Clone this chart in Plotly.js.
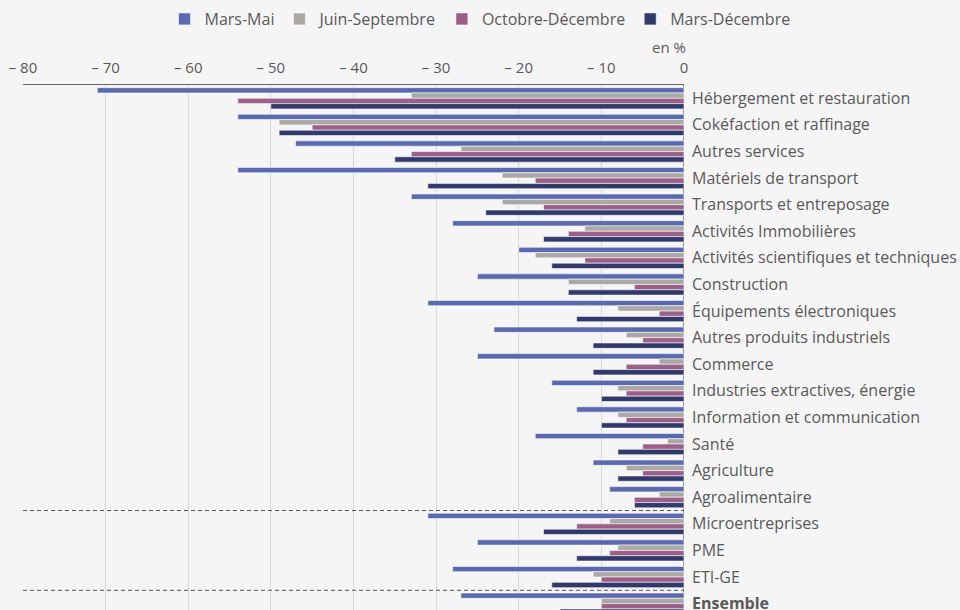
<!DOCTYPE html>
<html>
<head>
<meta charset="utf-8">
<script src="https://cdn.plot.ly/plotly-3.0.1.min.js"></script>
<style>
  html, body { margin: 0; padding: 0; background: #f5f5f5; }
  #chart { width: 960px; height: 610px; }
</style>
</head>
<body>
<div id="chart"></div>
<script>
const categories = [
  "Hébergement et restauration",
  "Cokéfaction et raffinage",
  "Autres services",
  "Matériels de transport",
  "Transports et entreposage",
  "Activités Immobilières",
  "Activités scientifiques et techniques",
  "Construction",
  "Équipements électroniques",
  "Autres produits industriels",
  "Commerce",
  "Industries extractives, énergie",
  "Information et communication",
  "Santé",
  "Agriculture",
  "Agroalimentaire",
  "Microentreprises",
  "PME",
  "ETI-GE",
  "Ensemble"
];
const categoryLabels = categories.map(c => c === "Ensemble" ? "<b>Ensemble</b>" : c);

const seriesNames = ["Mars-Mai", "Juin-Septembre", "Octobre-Décembre", "Mars-Décembre"];
const marsMai        = [-71, -54, -47, -54, -33, -28, -20, -25, -31, -23, -25, -16, -13, -18, -11, -9, -31, -25, -28, -27];
const juinSeptembre  = [-33, -49, -27, -22, -22, -12, -18, -14, -8, -7, -3, -8, -8, -2, -7, -3, -9, -8, -11, -10];
const octobreDecembre= [-54, -45, -33, -18, -17, -14, -12, -6, -3, -5, -7, -7, -7, -5, -5, -6, -13, -9, -10, -10];
const marsDecembre   = [-50, -49, -35, -31, -24, -17, -16, -14, -13, -11, -11, -10, -10, -8, -8, -6, -17, -13, -16, -15];
const seriesValues = [marsMai, juinSeptembre, octobreDecembre, marsDecembre];
const seriesColors = ["#5b6aae", "#aba9a5", "#9c5f88", "#323a6c"];

const xTickVals = [-80, -70, -60, -50, -40, -30, -20, -10, 0];
const xTickText = ["– 80", "– 70", "– 60", "– 50", "– 40", "– 30", "– 20", "– 10", "0"];

const traces = seriesNames.map((name, i) => ({
  type: "bar",
  orientation: "h",
  name: name,
  y: categories,
  x: seriesValues[i],
  marker: { color: seriesColors[i], line: { color: "rgba(255,255,255,0.7)", width: 0.8 } },
  hoverinfo: "skip"
}));

const textColor = "#595959";
const layout = {
  width: 960,
  height: 610,
  paper_bgcolor: "#f5f5f5",
  plot_bgcolor: "#f5f5f5",
  font: { family: "Open Sans, sans-serif", size: 16, color: textColor },
  margin: { l: 23, r: 276, t: 85, b: 0, pad: 0 },
  barmode: "group",
  bargap: 0.2,
  bargroupgap: 0,
  showlegend: true,
  legend: {
    orientation: "h",
    xref: "container", yref: "container",
    x: 0.5, xanchor: "center",
    y: 1 - 19 / 610, yanchor: "middle",
    font: { size: 16, color: textColor },
    itemwidth: 30,
    traceorder: "normal",
    bgcolor: "rgba(0,0,0,0)"
  },
  xaxis: {
    side: "top",
    range: [-80, 0],
    tickvals: xTickVals,
    ticktext: xTickText,
    tickfont: { size: 15, color: textColor },
    showgrid: true,
    gridcolor: "#d9d9d9",
    gridwidth: 1,
    zeroline: false,
    showline: true,
    linecolor: "#666666",
    linewidth: 1,
    ticks: "",
    ticklabelstandoff: 5,
    fixedrange: true
  },
  yaxis: {
    type: "category",
    categoryorder: "array",
    categoryarray: categories,
    range: [19.24, -0.5],
    side: "right",
    tickvals: categories,
    ticktext: categoryLabels,
    showgrid: false,
    zeroline: false,
    showline: false,
    ticks: "",
    ticklabelstandoff: 7,
    fixedrange: true
  },
  shapes: [
    { type: "line", xref: "x", yref: "paper", x0: 0, x1: 0, y0: 0, y1: 1,
      line: { color: "#333333", width: 1 }, layer: "below" },
    { type: "line", xref: "x", yref: "y", x0: -80, x1: 0, y0: 15.5, y1: 15.5,
      line: { color: "#555555", width: 1, dash: "4px,3px" }, layer: "above" },
    { type: "line", xref: "x", yref: "y", x0: -80, x1: 0, y0: 18.5, y1: 18.5,
      line: { color: "#555555", width: 1, dash: "4px,3px" }, layer: "above" }
  ],
  annotations: [
    { text: "en %", xref: "paper", yref: "paper", x: 1, y: 1,
      xanchor: "right", yanchor: "middle", xshift: 4, yshift: 38,
      showarrow: false, font: { size: 15, color: textColor } }
  ]
};

Plotly.newPlot("chart", traces, layout, { displayModeBar: false, staticPlot: true });
</script>
</body>
</html>
